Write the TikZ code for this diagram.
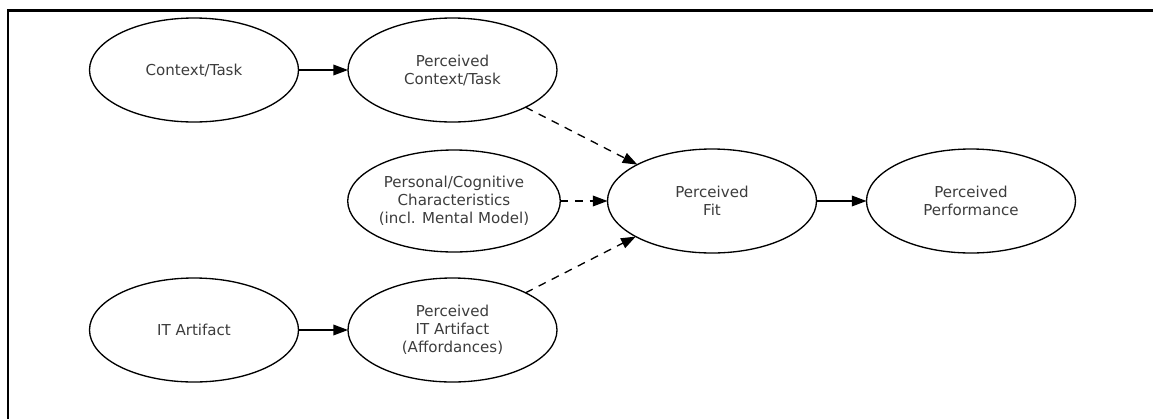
\documentclass[tikz,border=0pt]{standalone}
\usepackage{fontspec}
\setmainfont{DejaVu Sans}
\usetikzlibrary{arrows.meta,shapes.geometric}
\definecolor{labelgrey}{HTML}{3C3C3C}
\begin{document}
\begin{tikzpicture}[x=0.75pt,y=-0.75pt,
  construct/.style={draw=black, line width=1pt, ellipse, inner sep=0pt, outer sep=0pt,
    minimum width=156.75pt, minimum height=78pt, align=center, text=labelgrey,
    font=\fontsize{11.3pt}{13.5pt}\selectfont},
  link/.style={line width=1pt, -{Triangle[length=11pt,width=8pt]}},
  perceives/.style={link, dash pattern=on 6pt off 5pt}]
  \useasboundingbox (0,0) rectangle (1153,419);
  % frame edges
  \draw[line width=1.9pt] (8,419) -- (8,10.5) -- (1153,10.5);

  % constructs
  \node[construct] (ct)   at (194,70)    {Context/Task};
  \node[construct] (pct)  at (452.5,70)  {Perceived\\Context/Task};
  \node[construct, minimum width=159pt, minimum height=76.5pt] (pc) at (454,201)
    {Personal/Cognitive\\Characteristics\\(incl. Mental Model)};
  \node[construct] (it)   at (194,330)   {IT Artifact};
  \node[construct] (pit)  at (452.5,330) {Perceived\\IT Artifact\\(Affordances)};
  \node[construct] (fit)  at (712,201)   {Perceived\\Fit};
  \node[construct] (perf) at (971,201)   {Perceived\\Performance};

  % relations
  \draw[link] (ct) -- (pct);
  \draw[link] (it) -- (pit);
  \draw[perceives] (pct.-27) -- (fit.154.7);
  \draw[perceives] (pc.east) -- (fit.west);
  \draw[perceives] (pit.27) -- (fit.205.3);
  \draw[link] (fit) -- (perf);
\end{tikzpicture}
\end{document}
